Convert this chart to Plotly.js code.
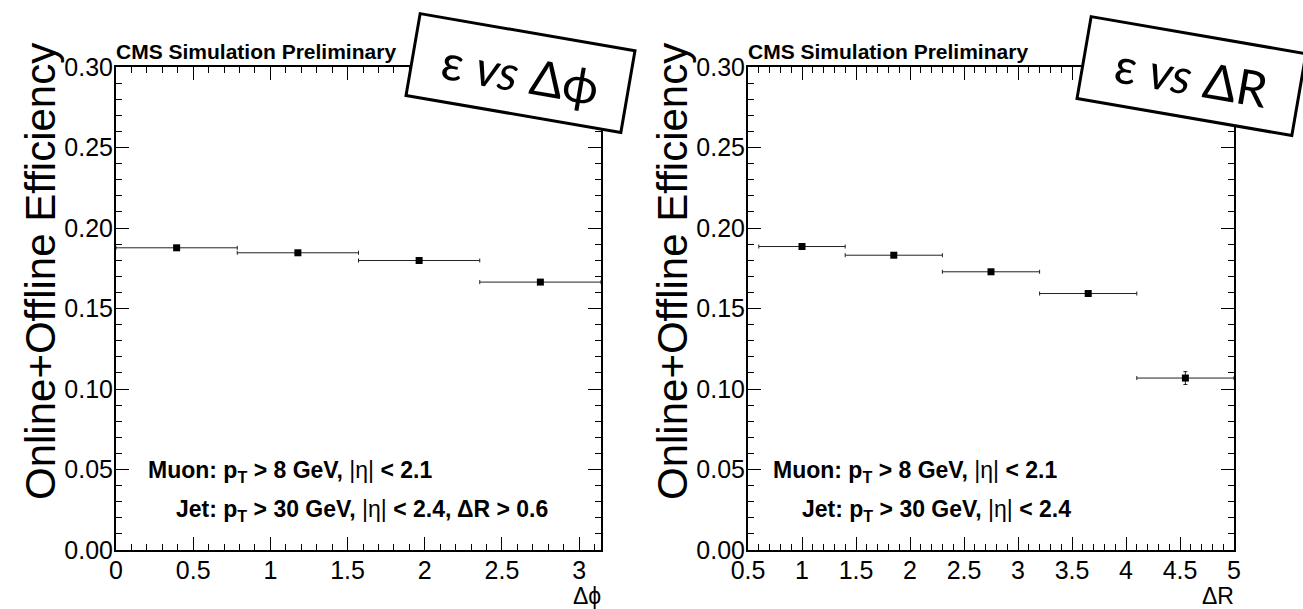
<!DOCTYPE html>
<html>
<head>
<meta charset="utf-8">
<script src="https://cdn.plot.ly/plotly-3.0.1.min.js"></script>
<style>html,body{margin:0;padding:0;background:#fff;}#chart{width:1303px;height:609px;}</style>
</head>
<body>
<div id="chart"></div>
<script>
// Left panel: efficiency vs delta-phi
const dphiCenters = [0.3927, 1.1781, 1.9635, 2.7489];
const dphiHalfWidths = [0.3927, 0.3927, 0.3927, 0.3927];
const dphiEff = [0.1877, 0.1846, 0.1798, 0.1664];
const dphiErr = [0.0008, 0.0008, 0.0009, 0.0010];

// Right panel: efficiency vs delta-R
const drCenters = [1.0, 1.85, 2.75, 3.65, 4.55];
const drHalfWidths = [0.4, 0.45, 0.45, 0.45, 0.45];
const drEff = [0.1885, 0.1831, 0.1728, 0.1593, 0.1068];
const drErr = [0.0008, 0.0009, 0.0010, 0.0013, 0.0040];

const yTitle = "Online+Offline Efficiency";
const cmsLabel = "CMS Simulation Preliminary";
const muonLabel = "Muon: p<sub>T</sub> > 8 GeV, <span style='font-weight:normal'>|η|</span> < 2.1";
const jetLabelL = "Jet: p<sub>T</sub> > 30 GeV, <span style='font-weight:normal'>|η|</span> < 2.4, ΔR > 0.6";
const jetLabelR = "Jet: p<sub>T</sub> > 30 GeV, <span style='font-weight:normal'>|η|</span> < 2.4";
const boxLabelL = "ε <i>vs</i> Δϕ";
const boxLabelR = "ε <i>vs</i> ΔR";
const xTitleL = "Δϕ";
const xTitleR = "ΔR";

const W = 1303, H = 609;
const px = v => v / W;
const py = v => 1 - v / H;

function trace(x, y, ex, ey, xa, ya) {
  return {
    type: 'scatter', mode: 'markers', x: x, y: y, xaxis: xa, yaxis: ya,
    marker: {symbol: 'square', size: 7, color: '#000'},
    error_x: {type: 'data', array: ex, visible: true, thickness: 1, width: 2, color: '#222'},
    error_y: {type: 'data', array: ey, visible: true, thickness: 1, width: 2, color: '#222'},
    showlegend: false, hoverinfo: 'x+y'
  };
}

const tickFont = {family: 'Liberation Sans, Arial, sans-serif', size: 25, color: '#000'};
function xAxis(domain, range, anchor) {
  return {
    domain: domain, range: range, anchor: anchor, dtick: 0.5, tick0: 0,
    ticks: 'inside', ticklen: 13, tickwidth: 1, tickcolor: '#000',
    minor: {dtick: 0.1, ticklen: 6, ticks: 'inside', tickcolor: '#000', tickwidth: 1},
    mirror: 'allticks', showline: true, linecolor: '#000', linewidth: 2,
    showgrid: false, zeroline: false, tickfont: tickFont, fixedrange: true,
    ticklabelstandoff: -3
  };
}
function yAxis(domain, anchor) {
  return {
    domain: domain, range: [0, 0.30], anchor: anchor, dtick: 0.05, tick0: 0, tickformat: '.2f',
    ticks: 'inside', ticklen: 13, tickwidth: 1, tickcolor: '#000',
    minor: {dtick: 0.01, ticklen: 6, ticks: 'inside', tickcolor: '#000', tickwidth: 1},
    mirror: 'allticks', showline: true, linecolor: '#000', linewidth: 2,
    showgrid: false, zeroline: false, tickfont: tickFont, fixedrange: true,
    ticklabelstandoff: -4
  };
}

const yDom = [py(550), py(67)];
const boldFont = {family: 'Liberation Sans, Arial, sans-serif', size: 23, color: '#000', weight: 'bold'};
const cmsFont = {family: 'Liberation Sans, Arial, sans-serif', size: 21, color: '#000', weight: 'bold'};
const boxFont = {family: 'Lato, Open Sans, sans-serif', size: 49, color: '#000'};
const titleFont = {family: 'Liberation Sans, Arial, sans-serif', size: 42, color: '#000'};
const axTitleFont = {family: 'Liberation Sans, Arial, sans-serif', size: 23, color: '#000'};

function ann(text, x, y, xanchor, font, extra) {
  return Object.assign({text: text, xref: 'paper', yref: 'paper', x: x, y: y,
    xanchor: xanchor, yanchor: 'middle', showarrow: false, font: font}, extra || {});
}

const annotations = [
  ann(cmsLabel, px(114), py(51), 'left', cmsFont),
  ann(cmsLabel, px(746), py(51), 'left', cmsFont),
  ann(yTitle, px(40), py(272), 'center', titleFont, {textangle: -90}),
  ann(yTitle, px(672), py(272), 'center', titleFont, {textangle: -90}),
  ann(muonLabel, px(146), py(471), 'left', boldFont),
  ann(jetLabelL, px(174), py(510), 'left', boldFont),
  ann(muonLabel, px(771), py(471), 'left', boldFont),
  ann(jetLabelR, px(800), py(510), 'left', boldFont),
  ann(xTitleL, px(603), py(596), 'right', axTitleFont),
  ann(xTitleR, px(1236), py(596), 'right', axTitleFont),
  ann(boxLabelL, px(520), py(73), 'center', boxFont, {textangle: 9.8, width: 215, height: 80, borderwidth: 3, bordercolor: '#000', bgcolor: '#fff', borderpad: 0}),
  ann(boxLabelR, px(1191), py(76), 'center', boxFont, {textangle: 9.8, width: 215, height: 80, borderwidth: 3, bordercolor: '#000', bgcolor: '#fff', borderpad: 0})
];

const layout = {
  width: W, height: H, autosize: false,
  margin: {l: 0, r: 0, t: 0, b: 0, pad: 0},
  paper_bgcolor: '#fff', plot_bgcolor: '#fff',
  xaxis: xAxis([px(116), px(601)], [0, Math.PI], 'y'),
  yaxis: yAxis(yDom, 'x'),
  xaxis2: xAxis([px(748), px(1234)], [0.5, 5], 'y2'),
  yaxis2: yAxis(yDom, 'x2'),
  annotations: annotations,
  showlegend: false
};

Plotly.newPlot('chart', [
  trace(dphiCenters, dphiEff, dphiHalfWidths, dphiErr, 'x', 'y'),
  trace(drCenters, drEff, drHalfWidths, drErr, 'x2', 'y2')
], layout, {displayModeBar: false, staticPlot: true});
</script>
</body>
</html>
